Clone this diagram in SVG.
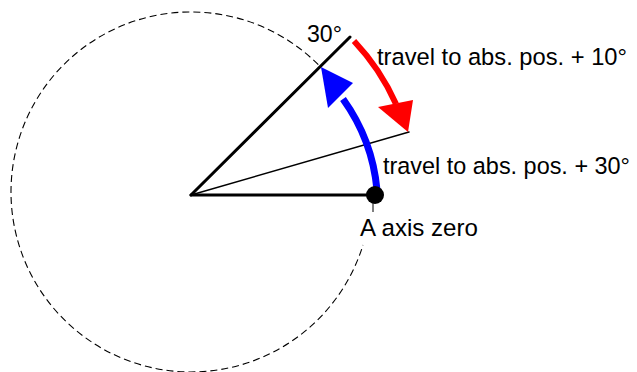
<svg xmlns="http://www.w3.org/2000/svg" width="637" height="372" viewBox="0 0 637 372">
<style>
text{font-family:"Liberation Sans",Arial,sans-serif;font-size:24.5px;fill:#000}
.lbl{font-size:23.7px}
.ray{stroke:#000;fill:none;stroke-linecap:round}
</style>
<rect width="637" height="372" fill="#fff"/>
<g id="circle">
<path d="M318.3,64.7 A180,180 0 1 0 363,245" fill="none" stroke="#000" stroke-width="1.1" stroke-dasharray="7,4"/>
</g>
<g id="connectors">
<line class="ray" x1="191" y1="195" x2="375" y2="195" stroke-width="3"/>
<line class="ray" x1="191" y1="195" x2="350" y2="37" stroke-width="3"/>
<line class="ray" x1="191" y1="195" x2="409" y2="132" stroke-width="1.5"/>
<line x1="373" y1="203" x2="373" y2="212" stroke="#000" stroke-width="1"/>
<path d="M377,190 A185,185 0 0 0 343,99" fill="none" stroke="#0000ff" stroke-width="7"/>
<polygon points="321,67 353,83 328,108" fill="#0000ff"/>
<path d="M354,41 A226,226 0 0 1 396,104" fill="none" stroke="#ff0000" stroke-width="6"/>
<polygon points="378,107 413,100 408,132" fill="#ff0000"/>
</g>
<g id="zero">
<circle cx="375" cy="195" r="9" fill="#000"/>
<text x="360" y="235.5" textLength="118" lengthAdjust="spacingAndGlyphs">A axis zero</text>
</g>
<g id="angle30">
<text x="307" y="42" textLength="35" lengthAdjust="spacingAndGlyphs">30°</text>
</g>
<g id="label10">
<text class="lbl" x="377" y="64.5" textLength="250" lengthAdjust="spacingAndGlyphs">travel to abs. pos. + 10°</text>
</g>
<g id="label30">
<text class="lbl" x="383" y="173.5" textLength="247" lengthAdjust="spacingAndGlyphs">travel to abs. pos. + 30°</text>
</g>
</svg>
